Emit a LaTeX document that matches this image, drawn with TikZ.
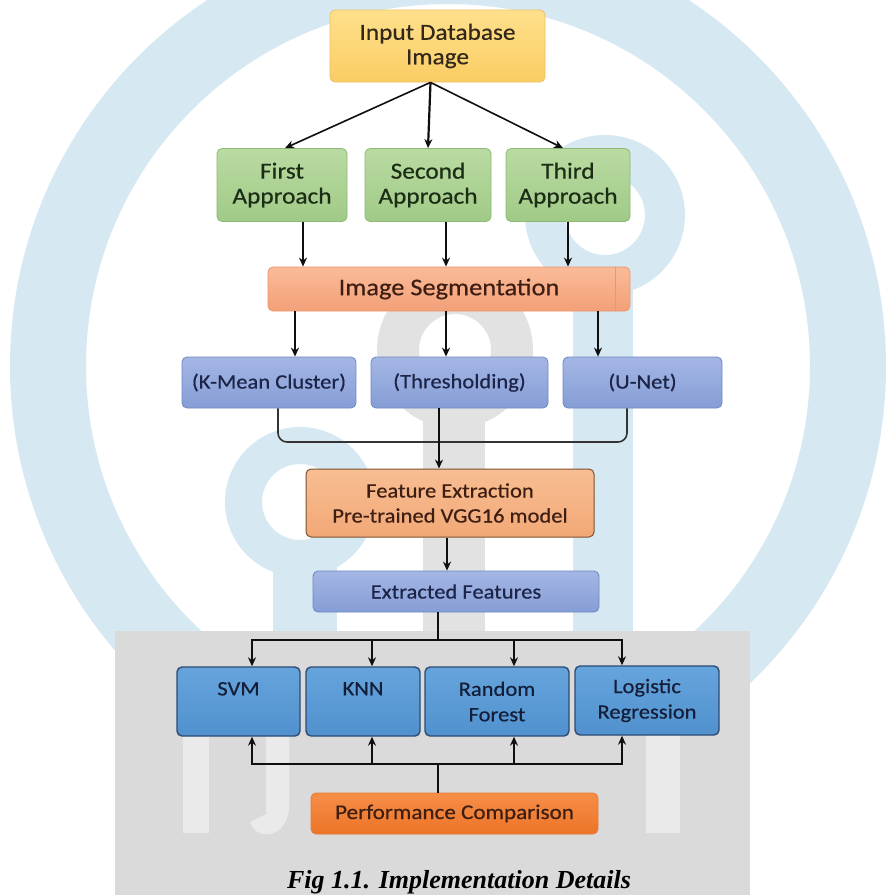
\documentclass[tikz,border=0pt]{standalone}
\usepackage{fontspec}
\setmainfont{Carlito}[FakeStretch=1.1,FakeBold=0.5]
\newfontfamily\capfont{Liberation Serif}
\usetikzlibrary{arrows.meta}
\definecolor{wmblue}{RGB}{214,232,242}
\definecolor{wmgray}{RGB}{218,218,218}
\definecolor{wmgrayB}{RGB}{226,226,226}
\definecolor{wmlight}{RGB}{234,234,234}
\definecolor{inpT}{RGB}{255,224,140}
\definecolor{inpB}{RGB}{250,205,100}
\definecolor{inpD}{RGB}{236,192,96}
\definecolor{grT}{RGB}{186,219,162}
\definecolor{grB}{RGB}{160,202,135}
\definecolor{grD}{RGB}{140,185,115}
\definecolor{sgT}{RGB}{250,187,152}
\definecolor{sgB}{RGB}{243,160,120}
\definecolor{sgD}{RGB}{236,150,110}
\definecolor{lvT}{RGB}{164,182,228}
\definecolor{lvB}{RGB}{134,158,214}
\definecolor{lvD}{RGB}{110,135,195}
\definecolor{ftT}{RGB}{248,190,147}
\definecolor{ftB}{RGB}{242,168,118}
\definecolor{ftD}{RGB}{125,82,48}
\definecolor{mlT}{RGB}{102,164,220}
\definecolor{mlB}{RGB}{80,145,206}
\definecolor{mlD}{RGB}{45,75,115}
\definecolor{pfT}{RGB}{246,142,72}
\definecolor{pfB}{RGB}{236,116,40}
\definecolor{pfD}{RGB}{232,122,52}
\definecolor{txtA}{RGB}{50,40,25}
\definecolor{txtG}{RGB}{28,45,22}
\definecolor{txtS}{RGB}{62,30,18}
\definecolor{txtL}{RGB}{28,36,72}
\definecolor{txtM}{RGB}{20,30,56}
\definecolor{arrC}{RGB}{15,15,15}
\begin{document}
\begin{tikzpicture}[x=1pt,y=-1pt,
  box/.style={rectangle, rounded corners=5pt, line width=0.8pt, align=center, inner sep=0pt},
  ybox/.style={box, draw=inpD, top color=inpT, bottom color=inpB, text=txtA, font=\fontsize{23}{24.5}\selectfont},
  gbox/.style={box, draw=grD, top color=grT, bottom color=grB, text=txtG, font=\fontsize{23}{25}\selectfont},
  sbox/.style={box, draw=sgD, top color=sgT, bottom color=sgB, text=txtS, font=\fontsize{24}{25}\selectfont},
  lbox/.style={box, draw=lvD, top color=lvT, bottom color=lvB, text=txtL, font=\fontsize{20.5}{25}\selectfont},
  fbox/.style={box, draw=ftD, top color=ftT, bottom color=ftB, text=txtS, line width=1pt, font=\fontsize{20.5}{25}\selectfont},
  mbox/.style={box, draw=mlD, top color=mlT, bottom color=mlB, text=txtM, line width=1.4pt, font=\fontsize{20.5}{25.5}\selectfont},
  pbox/.style={box, draw=pfD, top color=pfT, bottom color=pfB, text=txtS, font=\fontsize{21}{25}\selectfont},
  arr/.style={line width=2.2pt, draw=arrC, -{Stealth[length=9pt,width=8pt]}},
  darr/.style={line width=1.6pt, draw=arrC, -{Stealth[length=9pt,width=8pt]}},
  wire/.style={line width=2.1pt, draw=arrC},
  bracketline/.style={line width=1.6pt, draw=arrC!85, rounded corners=9pt},
  captext/.style={font=\capfont\bfseries\itshape\fontsize{26}{28}\selectfont, text=black, inner sep=0pt}
]
% ---- canvas and watermark ----
\fill[white] (0,0) rectangle (887,895);
\useasboundingbox (0,0) rectangle (887,895);
\begin{scope}
\clip (0,0) rectangle (887,895);
\fill[wmblue, even odd rule] (448,366) circle[radius=438pt] (448,366) circle[radius=362pt];
\fill[wmblue, even odd rule] (300,502) circle[radius=75pt] (300,502) circle[radius=38pt];
\fill[wmblue] (273,540) rectangle (337,631);
\fill[wmblue, even odd rule] (605,215) circle[radius=80pt] (605,215) circle[radius=40pt];
\fill[wmblue] (573,255) rectangle (633,631);
\fill[wmgrayB, even odd rule] (455,350) circle[radius=78pt] (455,350) circle[radius=36pt];
\fill[wmgrayB] (423,386) rectangle (485,631);
\fill[wmgray] (115,631) rectangle (750,895);
\fill[wmlight] (183,700) rectangle (209,833);
\fill[wmlight] (266,700) -- (289,700) -- (289,806) .. controls (289,838) and (256,842) .. (250,822) -- (266,814) .. controls (268,820) and (266,812) .. (266,806) -- cycle;
\fill[wmlight] (646,700) rectangle (680,833);
\end{scope}
% ---- nodes ----
\node[ybox, minimum width=215pt, minimum height=72pt] (inp) at (437.5,46) {Input Database\\Image};
\node[gbox, minimum width=130pt, minimum height=73pt] (first) at (282,185) {First\\Approach};
\node[gbox, minimum width=126pt, minimum height=73pt] (second) at (428,185) {Second\\Approach};
\node[gbox, minimum width=124pt, minimum height=73pt] (third) at (568,185) {Third\\Approach};
\node[sbox, minimum width=362pt, minimum height=44pt] (seg) at (449,289) {Image Segmentation};
\node[lbox, minimum width=174pt, minimum height=51pt] (kmean) at (269,382.5) {(K-Mean Cluster)};
\node[lbox, minimum width=177pt, minimum height=51pt] (thresh) at (459.5,382.5) {(Thresholding)};
\node[lbox, minimum width=159pt, minimum height=51pt] (unet) at (642.5,382.5) {(U-Net)};
\node[fbox, minimum width=288pt, minimum height=68pt] (feat) at (450,503) {Feature Extraction\\Pre-trained VGG16 model};
\node[lbox, minimum width=286pt, minimum height=41pt] (extr) at (456,591.5) {Extracted Features};
\node[mbox, minimum width=123pt, minimum height=69pt] (svm) at (238.5,701.5) {SVM\\\mbox{}};
\node[mbox, minimum width=114pt, minimum height=69pt] (knn) at (363,701.5) {KNN\\\mbox{}};
\node[mbox, minimum width=144pt, minimum height=69pt] (rf) at (497,701.5) {Random\\Forest};
\node[mbox, minimum width=144pt, minimum height=69pt] (lr) at (647,700.5) {Logistic\\Regression};
\node[pbox, minimum width=287pt, minimum height=41pt] (perf) at (454.5,813.5) {Performance Comparison};
\node[captext, anchor=base] (cap) at (459,888) {Fig 1.1. Implementation Details};
% thin divider inside the segmentation box
\draw[sgD, line width=0.8pt] ([xshift=-15pt]seg.north east) -- ([xshift=-15pt]seg.south east);
% ---- connectors ----
\draw[darr] ([xshift=-7pt]inp.south) -- ([xshift=3pt]first.north);
\draw[arr] ([xshift=-7pt]inp.south) -- (second.north);
\draw[darr] ([xshift=-7pt]inp.south) -- ([xshift=-5pt]third.north);
\draw[arr] ([xshift=21pt]first.south) -- ([xshift=21pt]first.south |- seg.north);
\draw[arr] ([xshift=18pt]second.south) -- ([xshift=18pt]second.south |- seg.north);
\draw[arr] (third.south) -- (third.south |- seg.north);
\draw[arr] ([xshift=26pt]kmean.north |- seg.south) -- ([xshift=26pt]kmean.north);
\draw[arr] ([xshift=-13.5pt]thresh.north |- seg.south) -- ([xshift=-13.5pt]thresh.north);
\draw[arr] ([xshift=-44.5pt]unet.north |- seg.south) -- ([xshift=-44.5pt]unet.north);
\coordinate (join) at (439,442);
\draw[bracketline] ([xshift=9pt]kmean.south) |- (join) -| ([xshift=-15.5pt]unet.south);
\draw[arr] ([xshift=-20.5pt]thresh.south) -- ([xshift=-20.5pt]thresh.south |- feat.north);
\draw[arr] ([xshift=-3pt]feat.south) -- ([xshift=-3pt]feat.south |- extr.north);
\coordinate (split) at (438,640);
\draw[wire] ([xshift=-18pt]extr.south) -- (split);
\draw[arr] (split) -| ([xshift=13.5pt]svm.north);
\draw[arr] (split) -| ([xshift=9pt]knn.north);
\draw[arr] (split) -| ([xshift=17pt]rf.north);
\draw[arr] (split) -| ([xshift=-25pt]lr.north);
\coordinate (merge) at (438,764);
\draw[wire] ([xshift=-16.5pt]perf.north) -- (merge);
\draw[arr] (merge) -| ([xshift=13.5pt]svm.south);
\draw[arr] (merge) -| ([xshift=9pt]knn.south);
\draw[arr] (merge) -| ([xshift=17pt]rf.south);
\draw[arr] (merge) -| ([xshift=-25pt]lr.south);
\end{tikzpicture}
\end{document}
